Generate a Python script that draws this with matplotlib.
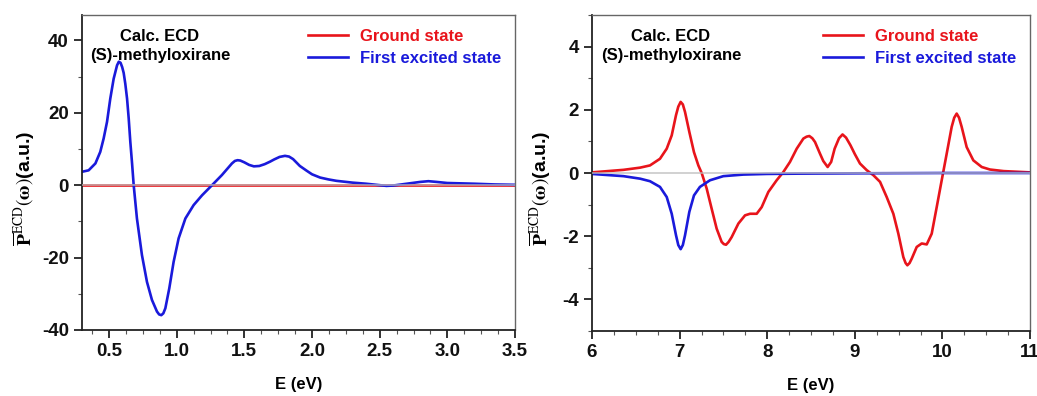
import matplotlib.pyplot as plt
from matplotlib.ticker import MultipleLocator

plt.rcParams["font.family"] = ["Liberation Sans", "DejaVu Sans"]
plt.rcParams["mathtext.fontset"] = "stix"
plt.rcParams["axes.unicode_minus"] = False

# left panel: low-energy region (first excited state; ground state is flat)
e_left = [0.300, 0.349, 0.399, 0.435, 0.460, 0.485, 0.509, 0.534, 0.559, 0.572, 0.585,
          0.597, 0.608, 0.620, 0.633, 0.645, 0.657, 0.670, 0.682, 0.706, 0.743, 0.780,
          0.817, 0.854, 0.870, 0.886, 0.901, 0.916, 0.945, 0.977, 1.014, 1.064, 1.125,
          1.187, 1.261, 1.334, 1.408, 1.430, 1.450, 1.470, 1.500, 1.535, 1.570, 1.610,
          1.650, 1.690, 1.720, 1.760, 1.800, 1.830, 1.860, 1.910, 1.960, 2.000, 2.060,
          2.120, 2.180, 2.300, 2.400, 2.500, 2.550, 2.600, 2.700, 2.800, 2.860, 2.920,
          3.000, 3.100, 3.200, 3.350, 3.500]
ground_left = [0.0] * len(e_left)
excited_left = [3.7, 4.1, 6.0, 9.2, 12.9, 17.5, 23.9, 29.4, 33.1, 34.1, 33.8,
                32.6, 31.0, 28.0, 23.9, 18.5, 12.0, 6.0, 0.0, -9.2, -19.3, -26.7,
                -31.7, -34.9, -35.7, -35.9, -35.4, -34.0, -28.5, -21.2, -14.7, -9.2, -5.5,
                -2.8, 0.0, 2.8, 6.0, 6.7, 6.9, 6.8, 6.3, 5.6, 5.2, 5.3,
                5.8, 6.5, 7.1, 7.8, 8.1, 7.9, 7.2, 5.3, 4.0, 3.0, 2.1,
                1.6, 1.2, 0.7, 0.4, 0.0, -0.2, -0.1, 0.4, 0.9, 1.1, 0.9,
                0.6, 0.5, 0.4, 0.2, 0.1]

# right panel: high-energy region
e_ground_right = [6.00, 6.36, 6.55, 6.662, 6.776, 6.853, 6.910, 6.959, 6.985, 7.012, 7.037,
                  7.062, 7.111, 7.164, 7.214, 7.252, 7.309, 7.366, 7.423, 7.480, 7.505,
                  7.530, 7.560, 7.594, 7.671, 7.747, 7.804, 7.880, 7.937, 8.013, 8.108,
                  8.184, 8.260, 8.337, 8.413, 8.450, 8.481, 8.515, 8.546, 8.603, 8.640,
                  8.690, 8.730, 8.770, 8.820, 8.860, 8.900, 8.950, 9.000, 9.059, 9.136,
                  9.212, 9.288, 9.364, 9.440, 9.497, 9.554, 9.580, 9.600, 9.625, 9.650,
                  9.707, 9.764, 9.821, 9.878, 9.935, 9.992, 10.049, 10.106, 10.135,
                  10.163, 10.190, 10.220, 10.277, 10.353, 10.449, 10.543, 10.700, 10.850,
                  11.00]
ground_right = [0.02, 0.10, 0.17, 0.24, 0.45, 0.77, 1.19, 1.83, 2.10, 2.25, 2.17,
                1.93, 1.30, 0.66, 0.24, 0.0, -0.49, -1.13, -1.76, -2.18, -2.25,
                -2.27, -2.18, -2.03, -1.60, -1.34, -1.29, -1.29, -1.08, -0.60, -0.23,
                0.03, 0.35, 0.77, 1.09, 1.15, 1.17, 1.10, 0.98, 0.61, 0.38,
                0.19, 0.35, 0.77, 1.10, 1.22, 1.12, 0.88, 0.60, 0.30, 0.09,
                -0.07, -0.28, -0.76, -1.29, -1.92, -2.66, -2.85, -2.92, -2.85, -2.71,
                -2.34, -2.23, -2.26, -1.92, -1.08, -0.23, 0.61, 1.46, 1.75,
                1.88, 1.75, 1.46, 0.82, 0.40, 0.19, 0.11, 0.06, 0.04,
                0.02]
e_excited_right = [6.00, 6.36, 6.55, 6.662, 6.776, 6.853, 6.910, 6.959, 6.985, 7.012,
                   7.037, 7.062, 7.111, 7.164, 7.232, 7.347, 7.499, 7.728, 7.994, 8.370,
                   9.000, 10.00, 11.00]
excited_right = [-0.03, -0.10, -0.18, -0.26, -0.44, -0.76, -1.29, -1.97, -2.28, -2.41,
                 -2.28, -1.97, -1.23, -0.71, -0.44, -0.23, -0.10, -0.05, -0.03, -0.02,
                 -0.01, 0.0, 0.0]

fig = plt.figure(figsize=(10.37, 3.96), dpi=100)
ax1 = fig.add_axes([82 / 1037, 66 / 396, 433 / 1037, 315 / 396])
ax2 = fig.add_axes([592 / 1037, 65 / 396, 438 / 1037, 316 / 396])

red = "#e8141b"
blue = "#1a1adb"

panels = [
    (ax1, e_left, ground_left, e_left, excited_left, (0.3, 3.5), (-40, 47),
     0.5, 0.125, 20, 10, -0.104),
    (ax2, e_ground_right, ground_right, e_excited_right, excited_right, (6, 11), (-5, 5),
     1, 0.25, 2, 1, -0.089),
]
for ax, eg, g, ex, x, xl, yl, xmaj, xmin, ymaj, ymin, ylx in panels:
    ax.plot(eg, g, color=red, lw=1.9, label="Ground state")
    ax.plot(ex, x, color=blue, lw=1.9, label="First excited state")
    ax.axhline(0, color="#bdbdbd", lw=1.3, alpha=0.75, zorder=3)
    ax.set_xlim(*xl)
    ax.set_ylim(*yl)
    ax.xaxis.set_major_locator(MultipleLocator(xmaj))
    ax.xaxis.set_minor_locator(MultipleLocator(xmin))
    ax.yaxis.set_major_locator(MultipleLocator(ymaj))
    ax.yaxis.set_minor_locator(MultipleLocator(ymin))
    ax.tick_params(which="major", direction="out", length=6, width=1.3, labelsize=13.5,
                   colors="#222222", labelcolor="#111111")
    ax.tick_params(which="minor", direction="out", length=3, width=0.8, colors="#555555")
    for lab in ax.get_xticklabels() + ax.get_yticklabels():
        lab.set_fontweight("bold")
    for side in ["left", "bottom"]:
        ax.spines[side].set_color("#222222")
        ax.spines[side].set_linewidth(1.3)
    for side in ["top", "right"]:
        ax.spines[side].set_color("#666666")
        ax.spines[side].set_linewidth(1.0)
    ax.set_xlabel("E (eV)", fontsize=12, fontweight="bold", labelpad=12)
    ax.set_ylabel(r"$\overline{\mathbf{P}}^{\mathrm{ECD}}(\mathbf{\omega})$(a.u.)",
                  fontsize=14, fontweight="bold")
    ax.yaxis.set_label_coords(ylx, 0.45)
    ax.text(0.18, 0.955, "Calc. ECD\n(S)-methyloxirane", transform=ax.transAxes,
            ha="center", va="top", fontsize=12, fontweight="bold",
            multialignment="center", linespacing=1.3)
    leg = ax.legend(loc="upper right", frameon=False, handlelength=2.4,
                    handletextpad=0.7, labelspacing=0.4, borderaxespad=0.55,
                    borderpad=0.3, prop={"weight": "bold", "size": 12})
    for txt, col in zip(leg.get_texts(), [red, blue]):
        txt.set_color(col)

fig.savefig("out.png", dpi=100)
